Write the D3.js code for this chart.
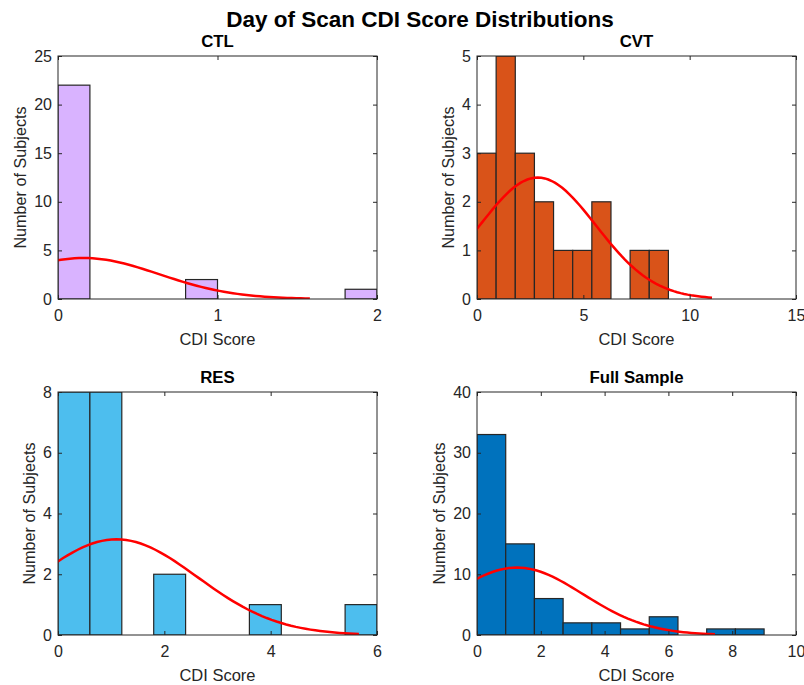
<!DOCTYPE html>
<html>
<head>
<meta charset="utf-8">
<script src="https://cdn.jsdelivr.net/npm/d3@7"></script>
<style>
  body { margin: 0; background: #fff; }
  text { font-family: "Liberation Sans", Arial, Helvetica, sans-serif; fill: #262626; }
  .title { font-weight: bold; fill: #000; }
  .axis path, .axis line { stroke: #262626; }
</style>
</head>
<body>
<script>
// Execute script when window is loaded
window.onload = function(){

    // SVG dimension variables
    var w = 804, h = 685;

    // Panel names and colours
    var panelNames = ["CTL", "CVT", "RES", "Full Sample"];
    var panelColors = ["#D9B3FF", "#D95319", "#4DBEEE", "#0072BD"];

    // Histogram counts, one value per bin
    var ctlCounts  = [22, 0, 0, 0, 2, 0, 0, 0, 0, 1];
    var cvtCounts  = [3, 5, 3, 2, 1, 1, 2, 0, 1, 1];
    var resCounts  = [8, 8, 0, 2, 0, 0, 1, 0, 0, 1];
    var fullCounts = [33, 15, 6, 2, 2, 1, 3, 0, 1, 1];

    // Bin widths
    var binWidths = [0.2, 0.9, 0.6, 0.9];

    // Axis limits
    var xMax = [2, 15, 6, 10];
    var yMax = [25, 5, 8, 40];

    // Tick labels
    var xTicks = [[0, 1, 2], [0, 5, 10, 15], [0, 2, 4, 6], [0, 2, 4, 6, 8, 10]];
    var yTicks = [[0, 5, 10, 15, 20, 25], [0, 1, 2, 3, 4, 5], [0, 2, 4, 6, 8], [0, 10, 20, 30, 40]];

    // Normal fit (histfit) parameters
    var fitMean = [0.16, 2.86, 1.10, 1.25];
    var fitSd   = [0.473, 2.73, 1.52, 2.07];

    var allCounts = [ctlCounts, cvtCounts, resCounts, fullCounts];

    // Plot box positions
    var boxLeft = [58, 477, 58, 477];
    var boxTop = [56, 56, 392, 392];
    var boxW = 319, boxH = 243;

    // Container block
    var svg = d3.select("body")
        .append("svg")
        .attr("width", w)
        .attr("height", h)
        .attr("class", "container");

    // Main title
    svg.append("text")
        .attr("class", "title")
        .attr("x", 420)
        .attr("y", 27)
        .attr("text-anchor", "middle")
        .style("font-size", "22.5px")
        .text("Day of Scan CDI Score Distributions");

    panelNames.forEach(function(name, p){
        var g = svg.append("g")
            .attr("class", "panel")
            .attr("transform", "translate(" + boxLeft[p] + "," + boxTop[p] + ")");

        var x = d3.scaleLinear().domain([0, xMax[p]]).range([0, boxW]);
        var y = d3.scaleLinear().domain([0, yMax[p]]).range([boxH, 0]);

        // Clip so nothing leaves the box
        var clipId = "clip" + p;
        g.append("clipPath").attr("id", clipId)
            .append("rect").attr("width", boxW).attr("height", boxH);

        var bins = allCounts[p].map(function(c, i){
            return { x0: i * binWidths[p], x1: (i + 1) * binWidths[p], count: c };
        }).filter(function(d){ return d.count > 0; });

        // Bars
        g.append("g").attr("clip-path", "url(#" + clipId + ")")
            .selectAll(".bar")
            .data(bins)
            .enter()
            .append("rect")
            .attr("class", "bar")
            .attr("x", function(d){ return x(d.x0); })
            .attr("y", function(d){ return y(d.count); })
            .attr("width", function(d){ return x(d.x1) - x(d.x0); })
            .attr("height", function(d){ return y(0) - y(d.count); })
            .style("fill", panelColors[p])
            .style("stroke", "#262626")
            .style("stroke-width", 1.2);

        // Normal fit curve
        var n = d3.sum(allCounts[p]);
        var mu = fitMean[p], sd = fitSd[p];
        var scale = n * binWidths[p] / (sd * Math.sqrt(2 * Math.PI));
        var lo = mu - 3 * sd, hi = mu + 3 * sd;
        var pts = d3.range(0, 101).map(function(i){
            var xv = lo + (hi - lo) * i / 100;
            return [xv, scale * Math.exp(-0.5 * Math.pow((xv - mu) / sd, 2))];
        });
        var line = d3.line()
            .x(function(d){ return x(d[0]); })
            .y(function(d){ return y(d[1]); });
        g.append("path")
            .attr("clip-path", "url(#" + clipId + ")")
            .datum(pts)
            .attr("d", line)
            .style("fill", "none")
            .style("stroke", "#FF0000")
            .style("stroke-width", 2.5);

        // Box outline
        g.append("rect")
            .attr("width", boxW)
            .attr("height", boxH)
            .style("fill", "none")
            .style("stroke", "#262626")
            .style("stroke-width", 1);

        // Axes, ticks pointing inward
        g.append("g").attr("class", "axis")
            .attr("transform", "translate(0," + boxH + ")")
            .call(d3.axisBottom(x).tickValues(xTicks[p]).tickSize(-4).tickPadding(11).tickFormat(d3.format("d")));
        g.append("g").attr("class", "axis")
            .call(d3.axisTop(x).tickValues(xTicks[p]).tickSize(-4).tickFormat(""));
        g.append("g").attr("class", "axis")
            .call(d3.axisLeft(y).tickValues(yTicks[p]).tickSize(-4).tickPadding(6).tickFormat(d3.format("d")));
        g.append("g").attr("class", "axis")
            .attr("transform", "translate(" + boxW + ",0)")
            .call(d3.axisRight(y).tickValues(yTicks[p]).tickSize(-4).tickFormat(""));
        svg.selectAll(".axis .domain").remove();
        g.selectAll(".axis text").style("font-size", "16px").style("fill", "#262626");

        // Subplot title
        g.append("text")
            .attr("class", "title")
            .attr("x", boxW / 2)
            .attr("y", -9)
            .attr("text-anchor", "middle")
            .style("font-size", "16.8px")
            .text(name);

        // X label
        g.append("text")
            .attr("x", boxW / 2)
            .attr("y", boxH + 46)
            .attr("text-anchor", "middle")
            .style("font-size", "16.5px")
            .text("CDI Score");

        // Y label, pushed left when tick labels have two digits
        var yLabelX = (yMax[p] >= 10) ? -32 : -23;
        g.append("text")
            .attr("transform", "translate(" + yLabelX + "," + (boxH / 2) + ") rotate(-90)")
            .attr("text-anchor", "middle")
            .style("font-size", "16.2px")
            .text("Number of Subjects");
    });
};
</script>
</body>
</html>
